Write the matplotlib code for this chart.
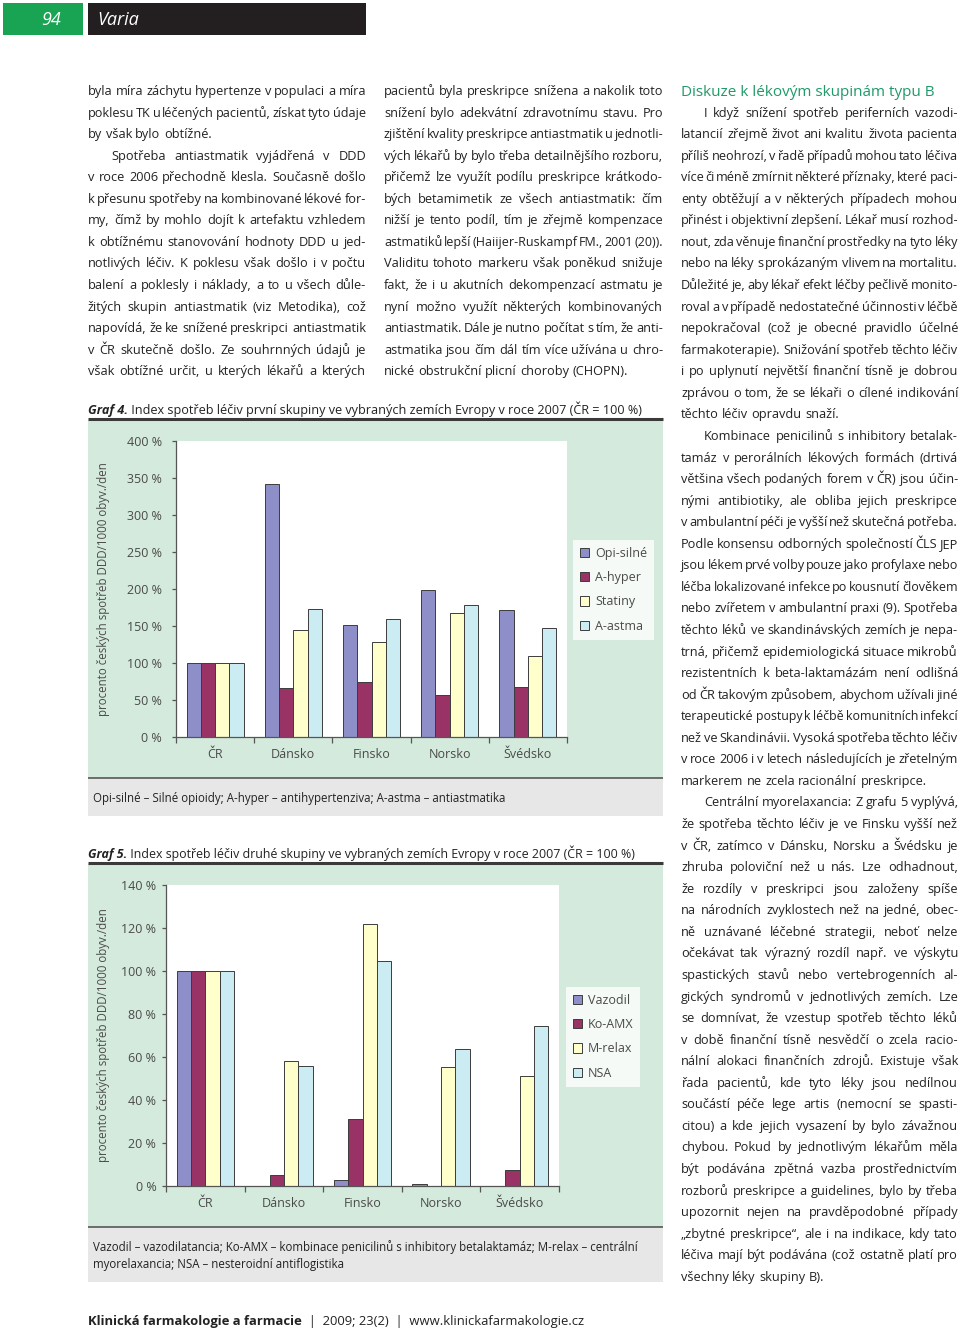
import matplotlib
matplotlib.use("Agg")
import matplotlib.pyplot as plt
import numpy as np
from matplotlib.font_manager import FontProperties
from matplotlib.patches import Rectangle, Patch

FAMILY = "Open Sans"
W, H = 960, 1330

# ---------------- data ----------------
countries = ["ČR", "Dánsko", "Finsko", "Norsko", "Švédsko"]

g4_names = ["Opi-silné", "A-hyper", "Statiny", "A-astma"]
g4_opi = [100, 342, 151, 199, 171]
g4_hyper = [100, 66, 75, 57, 68]
g4_statiny = [100, 144, 129, 168, 109]
g4_astma = [100, 173, 159, 179, 147]
g4_ticks = [0, 50, 100, 150, 200, 250, 300, 350, 400]

g5_names = ["Vazodil", "Ko-AMX", "M-relax", "NSA"]
g5_vazodil = [100, 0, 3, 1, 0]
g5_koamx = [100, 5, 31, 0, 7.5]
g5_mrelax = [100, 58, 122, 55.5, 51]
g5_nsa = [100, 56, 104.5, 63.5, 74.5]
g5_ticks = [0, 20, 40, 60, 80, 100, 120, 140]

ylabel = "procento českých spotřeb DDD/1000 obyv./den"
cap4_bold = "Graf 4."
cap4_text = " Index spotřeb léčiv první skupiny ve vybraných zemích Evropy v roce 2007 (ČR = 100 %)"
cap5_bold = "Graf 5."
cap5_text = " Index spotřeb léčiv druhé skupiny ve vybraných zemích Evropy v roce 2007 (ČR = 100 %)"
note4 = ["Opi-silné – Silné opioidy; A-hyper – antihypertenziva; A-astma – antiastmatika"]
note5 = ["Vazodil – vazodilatancia; Ko-AMX – kombinace penicilinů s inhibitory betalaktamáz; M-relax – centrální",
         "myorelaxancia; NSA – nesteroidní antiflogistika"]

col1_pars = [
    ["byla míra záchytu hypertenze v populaci a míra",
     "poklesu TK u léčených pacientů, získat tyto údaje",
     "by však bylo obtížné."],
    ["Spotřeba antiastmatik vyjádřená v DDD",
     "v roce 2006 přechodně klesla. Současně došlo",
     "k přesunu spotřeby na kombinované lékové for-",
     "my, čímž by mohlo dojít k artefaktu vzhledem",
     "k obtížnému stanovování hodnoty DDD u jed-",
     "notlivých léčiv. K poklesu však došlo i v počtu",
     "balení a poklesly i náklady, a to u všech důle-",
     "žitých skupin antiastmatik (viz Metodika), což",
     "napovídá, že ke snížené preskripci antiastmatik",
     "v ČR skutečně došlo. Ze souhrnných údajů je",
     "však obtížné určit, u kterých lékařů a kterých"],
]
col1_indent = [False, True]
col1_end = [True, False]

col2_pars = [
    ["pacientů byla preskripce snížena a nakolik toto",
     "snížení bylo adekvátní zdravotnímu stavu. Pro",
     "zjištění kvality preskripce antiastmatik u jednotli-",
     "vých lékařů by bylo třeba detailnějšího rozboru,",
     "přičemž lze využít podílu preskripce krátkodo-",
     "bých betamimetik ze všech antiastmatik: čím",
     "nižší je tento podíl, tím je zřejmě kompenzace",
     "astmatiků lepší (Haiijer-Ruskampf FM., 2001 (20)).",
     "Validitu tohoto markeru však poněkud snižuje",
     "fakt, že i u akutních dekompenzací astmatu je",
     "nyní možno využít některých kombinovaných",
     "antiastmatik. Dále je nutno počítat s tím, že anti-",
     "astmatika jsou čím dál tím více užívána u chro-",
     "nické obstrukční plicní choroby (CHOPN)."],
]
col2_indent = [False]
col2_end = [True]

col3_heading = "Diskuze k lékovým skupinám typu B"
col3_pars = [
    ["I když snížení spotřeb periferních vazodi-",
     "latancií zřejmě život ani kvalitu života pacienta",
     "příliš neohrozí, v řadě případů mohou tato léčiva",
     "více či méně zmírnit některé příznaky, které paci-",
     "enty obtěžují a v některých případech mohou",
     "přinést i objektivní zlepšení. Lékař musí rozhod-",
     "nout, zda věnuje finanční prostředky na tyto léky",
     "nebo na léky s prokázaným vlivem na mortalitu.",
     "Důležité je, aby lékař efekt léčby pečlivě monito-",
     "roval a v případě nedostatečné účinnosti v léčbě",
     "nepokračoval (což je obecné pravidlo účelné",
     "farmakoterapie). Snižování spotřeb těchto léčiv",
     "i po uplynutí největší finanční tísně je dobrou",
     "zprávou o tom, že se lékaři o cílené indikování",
     "těchto léčiv opravdu snaží."],
    ["Kombinace penicilinů s inhibitory betalak-",
     "tamáz v perorálních lékových formách (drtivá",
     "většina všech podaných forem v ČR) jsou účin-",
     "nými antibiotiky, ale obliba jejich preskripce",
     "v ambulantní péči je vyšší než skutečná potřeba.",
     "Podle konsensu odborných společností ČLS JEP",
     "jsou lékem prvé volby pouze jako profylaxe nebo",
     "léčba lokalizované infekce po kousnutí člověkem",
     "nebo zvířetem v ambulantní praxi (9). Spotřeba",
     "těchto léků ve skandinávských zemích je nepa-",
     "trná, přičemž epidemiologická situace mikrobů",
     "rezistentních k beta-laktamázám není odlišná",
     "od ČR takovým způsobem, abychom užívali jiné",
     "terapeutické postupy k léčbě komunitních infekcí",
     "než ve Skandinávii. Vysoká spotřeba těchto léčiv",
     "v roce 2006 i v letech následujících je zřetelným",
     "markerem ne zcela racionální preskripce."],
    ["Centrální myorelaxancia: Z grafu 5 vyplývá,",
     "že spotřeba těchto léčiv je ve Finsku vyšší než",
     "v ČR, zatímco v Dánsku, Norsku a Švédsku je",
     "zhruba poloviční než u nás. Lze odhadnout,",
     "že rozdíly v preskripci jsou založeny spíše",
     "na národních zvyklostech než na jedné, obec-",
     "ně uznávané léčebné strategii, neboť nelze",
     "očekávat tak výrazný rozdíl např. ve výskytu",
     "spastických stavů nebo vertebrogenních al-",
     "gických syndromů v jednotlivých zemích. Lze",
     "se domnívat, že vzestup spotřeb těchto léků",
     "v době finanční tísně nesvědčí o zcela racio-",
     "nální alokaci finančních zdrojů. Existuje však",
     "řada pacientů, kde tyto léky jsou nedílnou",
     "součástí péče lege artis (nemocní se spasti-",
     "citou) a kde jejich vysazení by bylo závažnou",
     "chybou. Pokud by jednotlivým lékařům měla",
     "být podávána zpětná vazba prostřednictvím",
     "rozborů preskripce a guidelines, bylo by třeba",
     "upozornit nejen na pravděpodobné případy",
     "„zbytné preskripce“, ale i na indikace, kdy tato",
     "léčiva mají být podávána (což ostatně platí pro",
     "všechny léky skupiny B)."],
]
col3_indent = [True, True, True]
col3_end = [True, True, True]

footer_bold = "Klinická farmakologie a farmacie"
footer_rest = "  |  2009; 23(2)  |  www.klinickafarmakologie.cz"

# ---------------- style ----------------
TEXT_C = "#222222"
AX_TXT = "#4a4a4a"
GREEN_PANEL = "#d4eadc"
GRAY_BOX = "#e7e7e8"
HEAD_GREEN = "#19a453"
HEAD_BLACK = "#231f20"
TITLE_GREEN = "#1f9a68"
g4_colors = ["#8e8fc9", "#993366", "#ffffcc", "#ccecf3"]
g5_colors = g4_colors
EDGE = "#3c3c3c"
BODY = 9.2
MIN_SPACE = 0.6

fig = plt.figure(figsize=(W / 100, H / 100), dpi=100)
fig.patch.set_facecolor("white")
page = fig.add_axes([0, 0, 1, 1])
page.set_xlim(0, W)
page.set_ylim(H, 0)
page.axis("off")
renderer = fig.canvas.get_renderer()


def fp(size, weight="normal", style="normal"):
    return FontProperties(family=FAMILY, size=size, weight=weight, style=style)


def tw(s, prop):
    w, h, d = renderer.get_text_width_height_descent(s, prop, ismath=False)
    return w


def fit(s, width, weight="normal", style="normal"):
    return 10 * width / tw(s, fp(10, weight, style))


# ---------------- header ----------------
page.add_patch(Rectangle((3, 3), 80, 32, color=HEAD_GREEN, lw=0))
page.add_patch(Rectangle((88, 3), 278, 32, color=HEAD_BLACK, lw=0))
page.text(51, 20, "94", color="white", fontproperties=fp(13, style="italic"), ha="center", va="center")
page.text(97, 20, "Varia", color="white", fontproperties=fp(13, style="italic"), ha="left", va="center")

# ---------------- body text ----------------
INDENT = 23
LH = 21.56
BASE = 95
cols = [(88, 366), (384, 663), (681, 958)]


def draw_column(pars, indents, ends, x0, x1, start_line):
    line = start_line
    for par, ind, end in zip(pars, indents, ends):
        for i, ln in enumerate(par):
            words = ln.split(" ")
            xs = x0 + (INDENT if (i == 0 and ind) else 0)
            y = BASE + line * LH
            last = end and i == len(par) - 1
            size = BODY
            prop = fp(size)
            sp = tw("a a", prop) - tw("aa", prop)
            widths = [tw(w, prop) for w in words]
            need = sum(widths) + MIN_SPACE * sp * (len(words) - 1)
            if need > x1 - xs:
                size = BODY * (x1 - xs) / need
                prop = fp(size)
                sp = tw("a a", prop) - tw("aa", prop)
                widths = [tw(w, prop) for w in words]
            if last or len(words) == 1:
                gap = sp
            else:
                gap = (x1 - xs - sum(widths)) / (len(words) - 1)
            x = xs
            for w, wd in zip(words, widths):
                page.text(x, y, w, fontproperties=prop, color=TEXT_C, va="baseline", ha="left")
                x += wd + gap
            line += 1


draw_column(col1_pars, col1_indent, col1_end, *cols[0], 0)
draw_column(col2_pars, col2_indent, col2_end, *cols[1], 0)
hs = fit(col3_heading, 254)
page.text(681, BASE + 1, col3_heading, fontproperties=fp(hs), color=TITLE_GREEN, va="baseline")
draw_column(col3_pars, col3_indent, col3_end, *cols[2], 1)


# ---------------- figure frames ----------------
def caption(y, bold, rest):
    s = fit(bold + rest, 548)
    pb = fp(s, weight="bold", style="italic")
    page.text(88, y, bold, fontproperties=pb, color=TEXT_C, va="baseline")
    page.text(88 + tw(bold, pb), y, rest, fontproperties=fp(s), color=TEXT_C, va="baseline")


caption(414, cap4_bold, cap4_text)
page.plot([88, 663], [418.5, 418.5], color="#3a3a3a", lw=2.2, solid_capstyle="butt")
page.add_patch(Rectangle((88, 419.5), 575, 358, color=GREEN_PANEL, lw=0))
page.plot([88, 663], [778, 778], color="#555555", lw=1.2, solid_capstyle="butt")
page.add_patch(Rectangle((88, 779), 575, 37, color=GRAY_BOX, lw=0))
n4 = fit(note4[0], 413)
for i, t in enumerate(note4):
    page.text(93, 802 + i * 17, t, fontproperties=fp(n4), color=TEXT_C, va="baseline")

caption(858, cap5_bold, cap5_text)
page.plot([88, 663], [862.5, 862.5], color="#3a3a3a", lw=2.2, solid_capstyle="butt")
page.add_patch(Rectangle((88, 863.5), 575, 363, color=GREEN_PANEL, lw=0))
page.plot([88, 663], [1227, 1227], color="#555555", lw=1.2, solid_capstyle="butt")
page.add_patch(Rectangle((88, 1228), 575, 54, color=GRAY_BOX, lw=0))
n5 = fit(note5[0], 544)
for i, t in enumerate(note5):
    page.text(93, 1251 + i * 17, t, fontproperties=fp(n5), color=TEXT_C, va="baseline")

# ---------------- footer ----------------
fsz = fit(footer_bold + footer_rest, 477)
pfb = fp(fsz, weight="bold")
page.text(88, 1325, footer_bold, fontproperties=pfb, color=TEXT_C, va="baseline")
page.text(88 + tw(footer_bold, pfb), 1325, footer_rest, fontproperties=fp(fsz), color=TEXT_C, va="baseline")


# ---------------- charts ----------------
def px_rect(x0, x1, y0, y1):
    return [x0 / W, 1 - y1 / H, (x1 - x0) / W, (y1 - y0) / H]


def bar_chart(rect, series, names, colors, ticks, ypad, legend_xy, label_x):
    ax = fig.add_axes(rect)
    ax.set_facecolor("white")
    x = np.arange(len(countries))
    bw = 0.182
    n = len(series)
    handles = []
    for k, (vals, name, c) in enumerate(zip(series, names, colors)):
        ax.bar(x + 0.5 + (k - (n - 1) / 2) * bw, vals, bw, color=c, edgecolor=EDGE, linewidth=0.7)
        handles.append(Patch(facecolor=c, edgecolor=EDGE, linewidth=0.7, label=name))
    ax.set_xlim(0, len(countries))
    ax.set_ylim(0, ticks[-1])
    ax.set_xticks(np.arange(len(countries) + 1))
    ax.set_xticklabels([])
    ax.set_xticks(x + 0.5, minor=True)
    ax.set_xticklabels(countries, minor=True)
    ax.tick_params(axis="x", which="major", direction="out", length=4, width=0.9, color="#555555")
    ax.tick_params(axis="x", which="minor", length=0, pad=8, labelsize=9, labelcolor=AX_TXT)
    ax.set_yticks(ticks)
    ax.set_yticklabels([f"{t} %" for t in ticks])
    ax.tick_params(axis="y", direction="out", length=3, width=0.9, color="#555555", pad=ypad,
                   labelsize=9, labelcolor=AX_TXT)
    for lab in ax.get_xticklabels(minor=True) + ax.get_yticklabels():
        lab.set_fontfamily(FAMILY)
    for s in ("top", "right"):
        ax.spines[s].set_visible(False)
    for s in ("left", "bottom"):
        ax.spines[s].set_color("#555555")
        ax.spines[s].set_linewidth(0.9)
    ax.set_ylabel(ylabel, fontproperties=fp(fit(ylabel, 254)), color=AX_TXT)
    ax.yaxis.set_label_coords(label_x, 0.5)
    leg = fig.legend(handles=handles, loc="upper left",
                     bbox_to_anchor=(legend_xy[0] / W, 1 - legend_xy[1] / H),
                     frameon=True, fancybox=False, borderaxespad=0, borderpad=0.55,
                     handlelength=0.75, handleheight=0.75, handletextpad=0.45,
                     labelspacing=0.9, prop=fp(9))
    leg.get_frame().set_facecolor("white")
    leg.get_frame().set_edgecolor("none")
    for t in leg.get_texts():
        t.set_color(AX_TXT)
    return ax


bar_chart(px_rect(176, 567, 441, 737), [g4_opi, g4_hyper, g4_statiny, g4_astma],
          g4_names, g4_colors, g4_ticks, 7, (573, 540), (110 - 176) / 391)
bar_chart(px_rect(166, 559, 885, 1186), [g5_vazodil, g5_koamx, g5_mrelax, g5_nsa],
          g5_names, g5_colors, g5_ticks, 4, (566, 987), (110 - 166) / 393)

fig.savefig("out.png", dpi=100, facecolor="white")
